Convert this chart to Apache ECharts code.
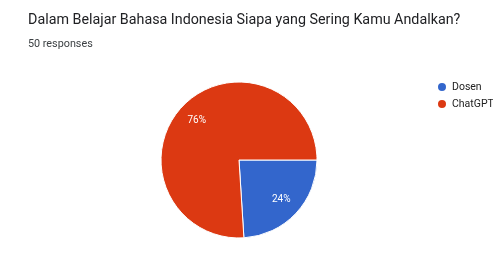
<!DOCTYPE html>
<html lang="id">
<head>
<meta charset="UTF-8">
<title>Pie</title>
<script src="https://cdn.jsdelivr.net/npm/echarts@6/dist/echarts.min.js"></script>
<style>
  html, body { margin: 0; padding: 0; background: #fff; }
</style>
</head>
<body>
<div id="main" style="width: 493px;height: 277px"></div>
<script>
  const categories = ['Dosen', 'ChatGPT'];
  const values = [12, 38];
  const colors = ['#3366cc', '#dc3912'];

  const pieData = categories.map(function (name, i) {
    return { name: name, value: values[i], itemStyle: { color: colors[i] } };
  });

  var chart = echarts.init(document.getElementById('main'));
  var option = {
    backgroundColor: '#fff',
    title: [{
      text: 'Dalam Belajar Bahasa Indonesia Siapa yang Sering Kamu Andalkan?',
      left: 23,
      top: 8,
      textStyle: { fontFamily: 'Roboto', fontSize: 14.3, fontWeight: 'normal', color: '#202124' }
    }, {
      text: '50 responses',
      left: 23,
      top: 34,
      textStyle: { fontFamily: 'Roboto', fontSize: 10.8, fontWeight: 'normal', color: '#3c4043' }
    }],
    legend: {
      orient: 'vertical',
      left: 431,
      top: 76,
      icon: 'circle',
      itemWidth: 10,
      itemHeight: 10,
      itemGap: 5,
      textStyle: { fontFamily: 'Roboto', fontSize: 10.5, color: '#222' },
      data: categories
    },
    series: [{
      type: 'pie',
      center: [239, 160],
      radius: [0, 78],
      startAngle: 0,
      clockwise: true,
      label: { show: false },
      labelLine: { show: false },
      itemStyle: { borderColor: '#fff', borderWidth: 1 },
      data: pieData
    }, {
      // only for labels, placed further out than the default mid radius
      type: 'pie',
      center: [239, 160],
      radius: [0, 110],
      startAngle: 0,
      clockwise: true,
      silent: true,
      itemStyle: { color: 'rgba(0,0,0,0)' },
      label: {
        show: true,
        position: 'inside',
        formatter: function (p) { return Math.round(p.percent) + '%'; },
        fontFamily: 'Roboto',
        fontSize: 10,
        color: '#fff'
      },
      labelLine: { show: false },
      data: categories.map(function (name, i) { return { name: name, value: values[i] }; })
    }]
  };
  chart.setOption(option);
</script>
</body>
</html>
